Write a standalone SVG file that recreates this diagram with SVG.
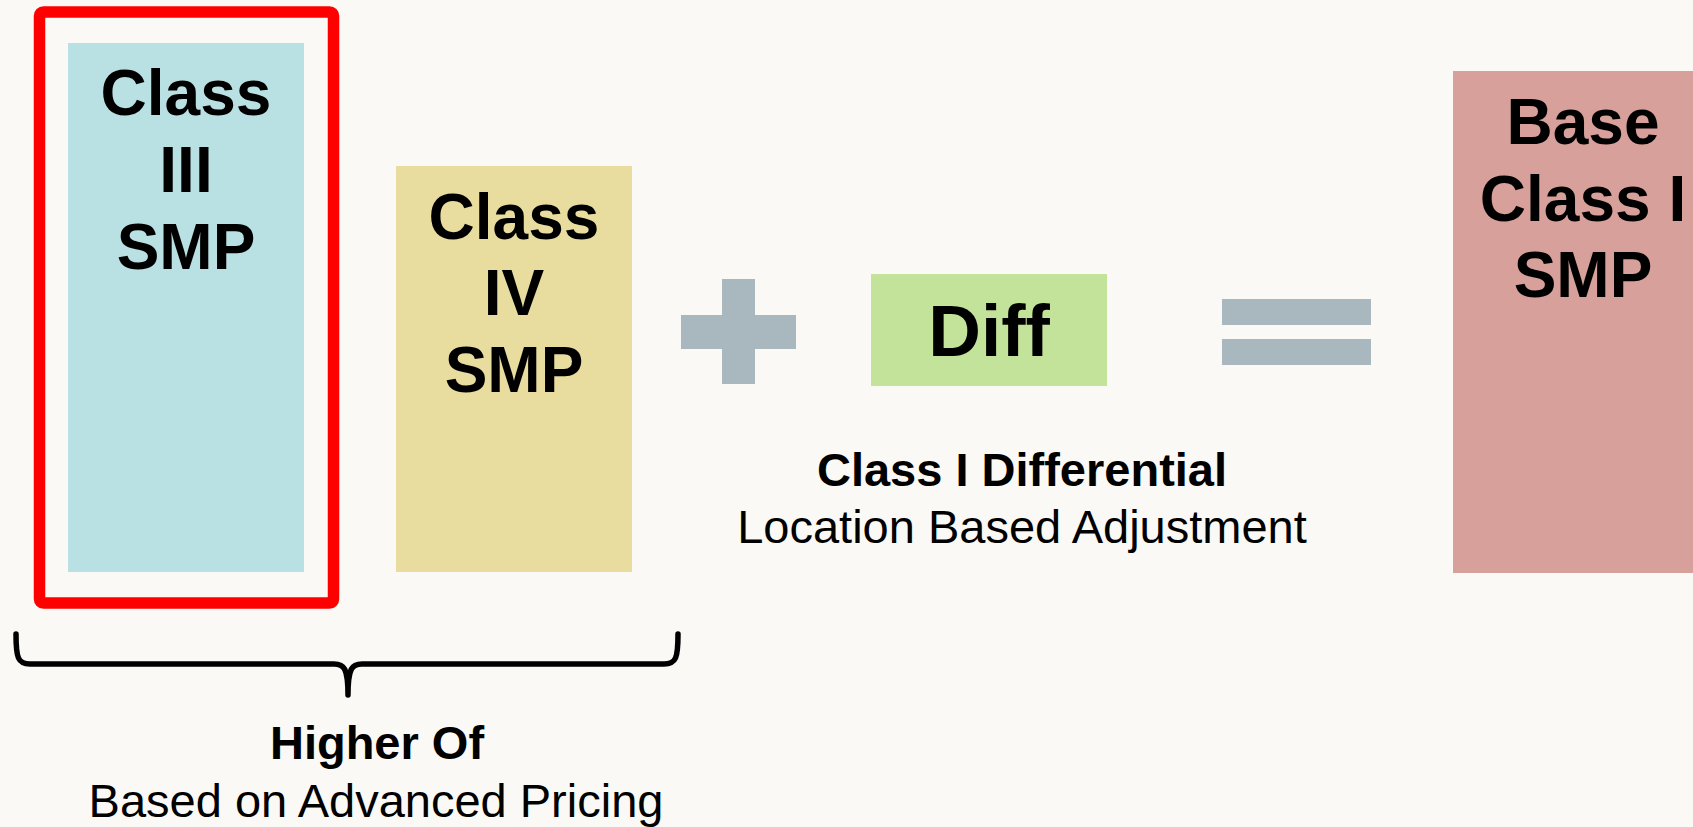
<svg xmlns="http://www.w3.org/2000/svg" width="1693" height="827" viewBox="0 0 1693 827">
<style>
.big{font-family:"Liberation Sans",Arial,sans-serif;font-weight:bold;font-size:64px;fill:#000;text-anchor:middle}
.lblb{font-family:"Liberation Sans",Arial,sans-serif;font-weight:bold;font-size:47px;fill:#000;text-anchor:middle}
.lbl{font-family:"Liberation Sans",Arial,sans-serif;font-size:47px;fill:#000;text-anchor:middle}
.op{fill:#a9b7be}
</style>
<rect x="0" y="0" width="1693" height="827" fill="#faf9f6"/>
<g id="class3">
<rect x="68" y="43" width="236" height="529" fill="#b9e0e3"/>
<text class="big" x="186" y="115">Class</text>
<text class="big" x="186" y="192">III</text>
<text class="big" x="186" y="269">SMP</text>
</g>
<g id="highlight">
<rect x="39.5" y="12" width="294" height="591" rx="4" fill="none" stroke="#ff0000" stroke-width="11.5"/>
</g>
<g id="class4">
<rect x="396" y="166" width="236" height="406" fill="#e8dd9f"/>
<text class="big" x="514" y="239">Class</text>
<text class="big" x="514" y="315">IV</text>
<text class="big" x="514" y="392">SMP</text>
</g>
<g id="plus">
<rect class="op" x="722" y="279" width="33" height="105"/>
<rect class="op" x="681" y="315" width="115" height="34"/>
</g>
<g id="diff">
<rect x="871" y="274" width="236" height="112" fill="#c4e39a"/>
<text x="989" y="356" style="font-family:'Liberation Sans',Arial,sans-serif;font-weight:bold;font-size:73px;text-anchor:middle">Diff</text>
</g>
<g id="diff-label">
<text class="lblb" x="1022" y="486">Class I Differential</text>
<text class="lbl" x="1022" y="543">Location Based Adjustment</text>
</g>
<g id="equals">
<rect class="op" x="1222" y="299" width="149" height="26"/>
<rect class="op" x="1222" y="339" width="149" height="26"/>
</g>
<g id="base">
<rect x="1453" y="71" width="260" height="502" fill="#d8a09a"/>
<text class="big" x="1583" y="144">Base</text>
<text class="big" x="1583" y="221">Class I</text>
<text class="big" x="1583" y="297">SMP</text>
</g>
<g id="connectors">
<path d="M16,634 C16,658 18,664 30,664 L334,664 C344,664 348,668 348,695 C348,668 352,664 362,664 L664,664 C676,664 678,658 678,634" fill="none" stroke="#000" stroke-width="5.5" stroke-linecap="round" stroke-linejoin="round"/>
</g>
<g id="bracket-label">
<text class="lblb" x="377" y="759">Higher Of</text>
<text class="lbl" x="376" y="817">Based on Advanced Pricing</text>
</g>
</svg>
